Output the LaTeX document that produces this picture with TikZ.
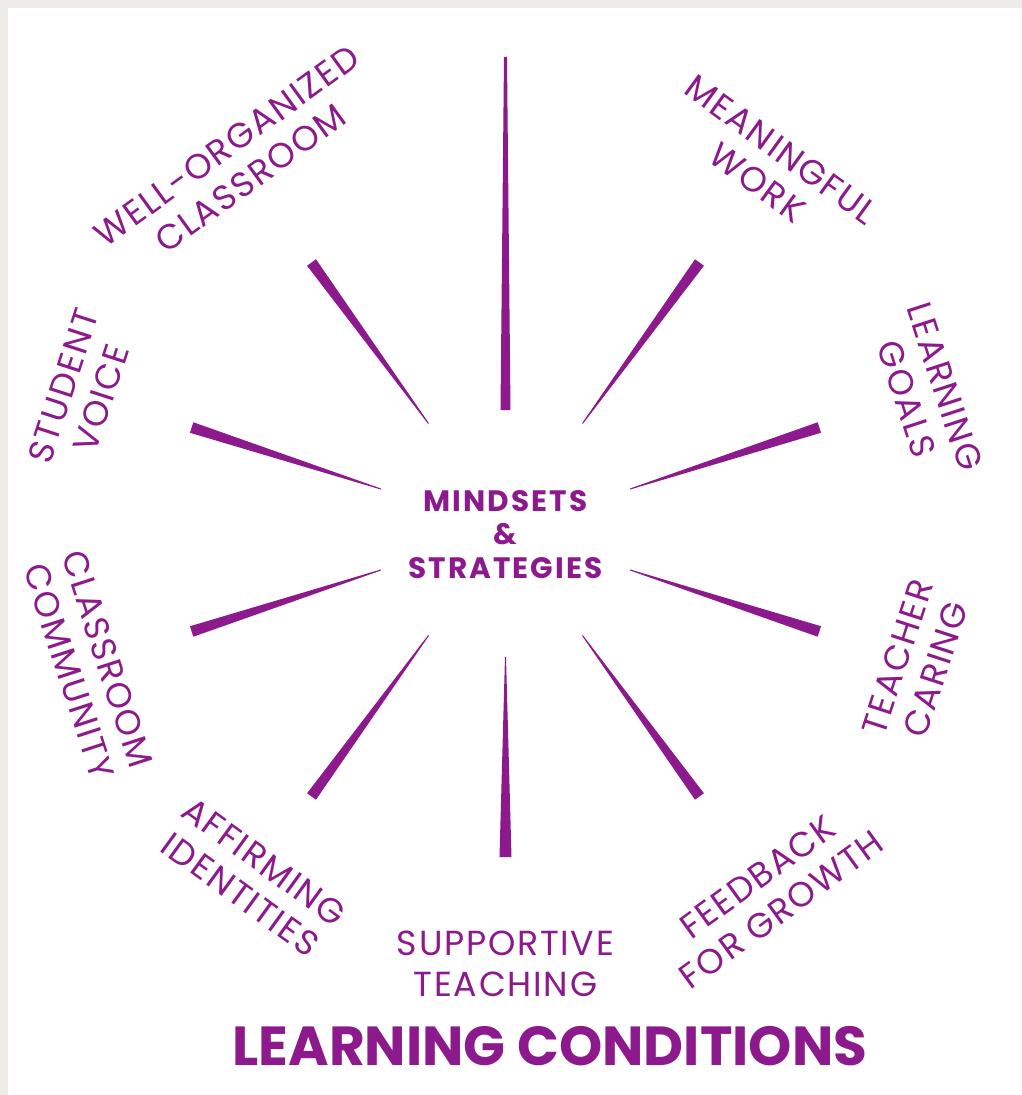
\documentclass[tikz,border=0pt]{standalone}
\usepackage{fontspec}
\setmainfont{Poppins}
\newfontfamily\lblfont[LetterSpace=5]{Poppins}
\newfontfamily\corefont[LetterSpace=7]{Poppins}
\definecolor{plum}{RGB}{140,26,140}
\definecolor{frame}{RGB}{237,236,232}

\begin{document}
\begin{tikzpicture}[
  lbl/.style={text=plum, align=center, inner sep=0pt, font=\lblfont\fontsize{19.8}{23}\selectfont},
  ray/.style={fill=plum}]
\useasboundingbox (-10.11,-11.31) rectangle (10.33,10.59);
\fill[frame] (-10.11,-11.31) rectangle (10.33,10.59);
\fill[white] (-9.95,-11.31) rectangle (10.33,10.43);

\node[text=plum, align=center, font=\corefont\bfseries\fontsize{16.8}{19.2}\selectfont] (core) at (0,-0.1) {MINDSETS\\\&\\STRATEGIES};

% rays
\path[ray,rotate=90] (2.39,0.1) -- (9.45,0.03) -- (9.45,-0.03) -- (2.39,-0.1) -- cycle;
\path[ray,rotate=54] (2.62,0.01) -- (6.6,0.11) -- (6.6,-0.11) -- (2.62,-0.01) -- cycle;
\path[ray,rotate=18] (2.62,0.01) -- (6.6,0.11) -- (6.6,-0.11) -- (2.62,-0.01) -- cycle;
\path[ray,rotate=-18] (2.62,0.01) -- (6.6,0.11) -- (6.6,-0.11) -- (2.62,-0.01) -- cycle;
\path[ray,rotate=-54] (2.62,0.01) -- (6.6,0.11) -- (6.6,-0.11) -- (2.62,-0.01) -- cycle;
\path[ray,rotate=-90] (2.55,0.01) -- (6.55,0.12) -- (6.55,-0.12) -- (2.55,-0.01) -- cycle;
\path[ray,rotate=-126] (2.62,0.01) -- (6.6,0.11) -- (6.6,-0.11) -- (2.62,-0.01) -- cycle;
\path[ray,rotate=-162] (2.62,0.01) -- (6.6,0.11) -- (6.6,-0.11) -- (2.62,-0.01) -- cycle;
\path[ray,rotate=162] (2.62,0.01) -- (6.6,0.11) -- (6.6,-0.11) -- (2.62,-0.01) -- cycle;
\path[ray,rotate=126] (2.62,0.01) -- (6.6,0.11) -- (6.6,-0.11) -- (2.62,-0.01) -- cycle;

% labels
\node[lbl, rotate=-36] (work) at (54:8.98) {MEANINGFUL\\WORK};
\node[lbl, rotate=-72] (goals) at (18:8.84) {LEARNING\\GOALS};
\node[lbl, rotate=72] (caring) at (-18:8.65) {TEACHER\\CARING};
\node[lbl, rotate=36] (growth) at (-54:8.99) {FEEDBACK\\FOR GROWTH};
\node[lbl] (teaching) at (-90:8.69) {SUPPORTIVE\\TEACHING};
\node[lbl, rotate=-36] (identity) at (-126:8.62) {AFFIRMING\\IDENTITIES};
\node[lbl, rotate=-72] (community) at (198:8.77) {CLASSROOM\\COMMUNITY};
\node[lbl, rotate=72] (voice) at (162:8.9) {STUDENT\\VOICE};
\node[lbl, rotate=36] (classroom) at (126:9.08) {WELL-ORGANIZED\\CLASSROOM};

\node[text=plum, font=\bfseries\fontsize{31.3}{36}\selectfont] (title) at (0.89,-10.33) {LEARNING CONDITIONS};
\end{tikzpicture}
\end{document}
